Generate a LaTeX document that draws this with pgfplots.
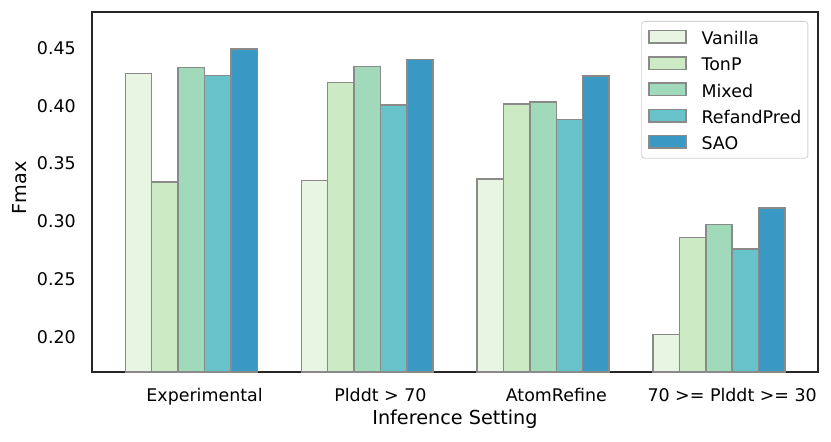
\documentclass[border=0pt]{standalone}
\usepackage{pgfplots}
\pgfplotsset{compat=1.18}
\usepackage{fontspec}
\setmainfont{DejaVu Sans}
\definecolor{cA}{RGB}{232,245,226}
\definecolor{cB}{RGB}{204,235,197}
\definecolor{cC}{RGB}{160,218,186}
\definecolor{cD}{RGB}{104,194,202}
\definecolor{cE}{RGB}{58,152,197}
\definecolor{edgegray}{RGB}{138,138,138}
\definecolor{framec}{RGB}{38,38,38}
\pgfplotsset{
  mybar/.style={fill=#1, draw=edgegray, line width=1.4bp, bar shift=0pt, bar width=0.15,
    legend image code/.code={\draw[##1,/tikz/.cd,sharp corners] (0bp,-5bp) rectangle (37bp,7.5bp);}},
}
\begin{document}
\begin{tikzpicture}
\useasboundingbox (-92bp,-70bp) rectangle (739bp,372bp);
\begin{axis}[
  at={(0,0)}, anchor=south west,
  scale only axis, width=726bp, height=360bp,
  xmin=-0.565, xmax=3.563, ymin=0.1697, ymax=0.481,
  ybar,
  xtick={0.075,1.075,2.075,3.075},
  xticklabels={Experimental,Plddt > 70,AtomRefine,70 >= Plddt >= 30},
  ytick={0.20,0.25,0.30,0.35,0.40,0.45},
  major tick length=0pt,
  axis line style={draw=framec, line width=1.6bp},
  tick label style={font=\fontsize{17.5}{21}\selectfont},
  /pgf/number format/assume math mode=true,
  yticklabel style={/pgf/number format/.cd, fixed, fixed zerofill, precision=2, /tikz/.cd, inner sep=0pt, xshift=-16bp},
  xticklabel style={inner sep=0pt, anchor=north, text height=13.3bp, text depth=0pt, yshift=-15.5bp},
  xlabel={Inference Setting},
  ylabel={Fmax},
  label style={font=\fontsize{19.3}{23}\selectfont},
  xlabel style={at={([yshift=-38bp]axis description cs:0.5,0)}, anchor=north, inner sep=0pt},
  ylabel style={at={([xshift=-65.3bp]axis description cs:0,0.511)}, anchor=south, rotate=0, inner sep=0pt},
  legend style={at={(0.9866,0.975)}, anchor=north east, draw=black!18, line width=0.8bp,
    rounded corners=3bp, fill=white, inner xsep=6.5bp, inner ysep=8.5bp,
    row sep=11.4bp, column sep=15bp,
    font=\fontsize{17.5}{21}\selectfont,
    nodes={inner sep=0pt, text height=13.3bp, text depth=0pt, anchor=west}},
  legend cell align=left,
]
\addplot[mybar=cA] coordinates {(-0.30,0.428) (0.70,0.3355) (1.70,0.3367) (2.70,0.202)};
\addplot[mybar=cB] coordinates {(-0.15,0.334) (0.85,0.420) (1.85,0.4016) (2.85,0.286)};
\addplot[mybar=cC] coordinates {(0.00,0.433) (1.00,0.434) (2.00,0.403) (3.00,0.2975)};
\addplot[mybar=cD] coordinates {(0.15,0.426) (1.15,0.4007) (2.15,0.388) (3.15,0.276)};
\addplot[mybar=cE] coordinates {(0.30,0.449) (1.30,0.440) (2.30,0.4258) (3.30,0.3116)};
\legend{Vanilla,TonP,Mixed,RefandPred,SAO}
\end{axis}
\end{tikzpicture}
\end{document}
